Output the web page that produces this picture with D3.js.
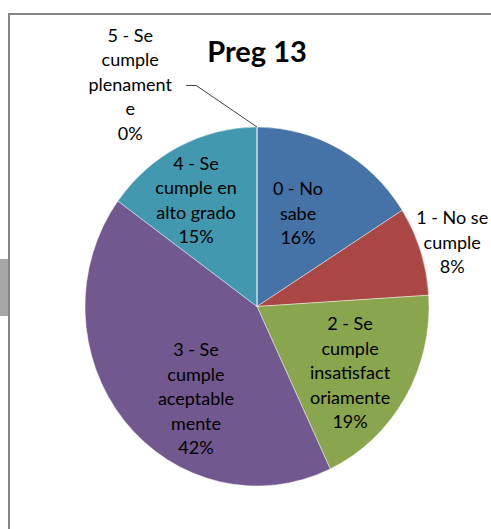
<!DOCTYPE html>
<html>
<head>
<meta charset="utf-8">
<script src="https://cdn.jsdelivr.net/npm/d3@7"></script>
<style>
  html, body { margin: 0; padding: 0; background: #fff; }
  svg { display: block; }
</style>
</head>
<body>
<script>
// ---- data ----
const title = "Preg 13";
const categories = ["0 - No sabe", "1 - No se cumple", "2 - Se cumple insatisfactoriamente",
                    "3 - Se cumple aceptablemente", "4 - Se cumple en alto grado", "5 - Se cumple plenamente"];
const values = [16, 8, 19, 42, 15, 0];
const labelLines = [
  ["0 - No", "sabe"],
  ["1 - No se", "cumple"],
  ["2 - Se", "cumple", "insatisfact", "oriamente"],
  ["3 - Se", "cumple", "aceptable", "mente"],
  ["4 - Se", "cumple en", "alto grado"],
  ["5 - Se", "cumple", "plenament", "e"]
];
const colors = ["#4572A7", "#AA4643", "#89A54E", "#71588F", "#4198AF", "#DB843D"];

// ---- layout ----
const W = 491, H = 529;
const cx = 257, cy = 306.5, r = 172, yScale = 179.5 / 172;
// label placement: [angle (deg, clockwise from 12 o'clock), radius as fraction of r]
const labelPolar = [[24.7, 0.571], [72.5, 1.19], [124.3, 0.655], [214.6, 0.625], [329.1, 0.69], [329.2, 1.44]];
const lineH = 24.5;

const svg = d3.select("body").append("svg").attr("width", W).attr("height", H);

// chart frame
svg.append("rect").attr("x", 0).attr("y", 259).attr("width", 8).attr("height", 57).attr("fill", "#a6a6a6");
svg.append("rect").attr("x", 9).attr("y", 14).attr("width", 600).attr("height", 600)
  .attr("fill", "#fff").attr("stroke", "#868686").attr("stroke-width", 2);

const pie = d3.pie().sort(null).value(d => d)
  .startAngle(0).endAngle(2 * Math.PI);
const arcs = pie(values);
const arc = d3.arc().innerRadius(0).outerRadius(r);

const g = svg.append("g").attr("transform", `translate(${cx},${cy}) scale(1,${yScale})`);
g.selectAll("path").data(arcs).join("path")
  .attr("d", arc)
  .attr("fill", (d, i) => colors[i])
  .attr("stroke", "#ffffff")
  .attr("stroke-opacity", 0.55)
  .attr("stroke-width", 0.8)
  .attr("vector-effect", "non-scaling-stroke");

// title
svg.append("text").attr("x", cx).attr("y", 62)
  .attr("text-anchor", "middle")
  .attr("font-family", "Lato, 'Open Sans', sans-serif")
  .attr("font-weight", "bold").attr("font-size", 29)
  .attr("fill", "#000").text(title);

function polar(angDeg, rad) {
  const a = angDeg * Math.PI / 180;
  return [cx + rad * Math.sin(a), cy - rad * Math.cos(a) * yScale];
}

const fmt = v => Math.round(v) + "%";
arcs.forEach((d, i) => {
  const lines = labelLines[i].concat([fmt(values[i])]);
  const [lx, ly] = polar(labelPolar[i][0], labelPolar[i][1] * r);
  const t = svg.append("text")
    .attr("text-anchor", "middle")
    .attr("font-family", "Lato, 'Open Sans', sans-serif")
    .attr("font-size", 18).attr("fill", "#000");
  const y0 = ly - (lines.length - 1) * lineH / 2;
  lines.forEach((s, k) => {
    t.append("tspan").attr("x", lx).attr("y", y0 + k * lineH).attr("dy", "0.35em").text(s);
  });
  if (values[i] === 0) {
    // leader line from the label to the zero-size slice
    const [px, py] = polar(d.startAngle * 180 / Math.PI, r);
    const sy = y0 + 2 * lineH + 1;
    svg.append("polyline")
      .attr("points", `${lx + 56},${sy} ${lx + 66},${sy} ${px},${py}`)
      .attr("fill", "none").attr("stroke", "#404040").attr("stroke-width", 1);
  }
});
</script>
</body>
</html>
